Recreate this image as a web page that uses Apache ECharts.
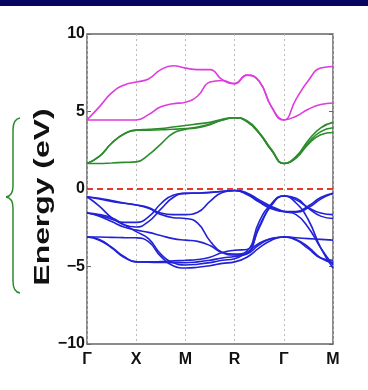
<!DOCTYPE html>
<html>
<head>
<meta charset="utf-8">
<script src="https://cdn.jsdelivr.net/npm/echarts@6/dist/echarts.min.js"></script>
<style>
  html, body { margin: 0; padding: 0; background: #fff; }
  #chart { width: 368px; height: 390px; }
</style>
</head>
<body>
<div id="chart"></div>
<script>
// k-path, high-symmetry points equally spaced: Γ X M R Γ M
const kPath = [0, 0.25, 0.5, 0.75, 1, 1.25, 1.5, 1.75, 2, 2.25, 2.5, 2.75, 3, 3.25, 3.5, 3.75, 4, 4.25, 4.5, 4.75, 5];
const kLabels = ["Γ", "X", "M", "R", "Γ", "M"];
const fermiLevel = 0;

// conduction bands (eg, magenta)
const egLower = [4.45, 4.45, 4.45, 4.45, 4.45, 4.8, 5.3, 5.5, 5.6, 6.0, 6.9, 7.0, 6.8, 7.35, 6.95, 5.3, 4.45, 4.7, 5.15, 5.45, 5.55];
const egUpper = [4.45, 5.3, 6.2, 6.7, 6.9, 7.1, 7.7, 7.95, 7.8, 7.7, 7.7, 7.05, 6.8, 7.35, 6.95, 5.3, 4.45, 5.8, 7.0, 7.8, 7.9];

// conduction bands (t2g, green)
const t2g1 = [1.65, 1.65, 1.68, 1.72, 1.75, 2.2, 2.9, 3.6, 3.85, 3.95, 4.15, 4.45, 4.6, 4.35, 3.6, 2.5, 1.65, 2.0, 2.9, 3.5, 3.65];
const t2g2 = [1.65, 2.1, 2.95, 3.55, 3.8, 3.85, 3.9, 4.0, 4.1, 4.2, 4.3, 4.5, 4.6, 4.35, 3.6, 2.5, 1.65, 2.05, 3.0, 3.7, 3.95];
const t2g3 = [1.65, 2.1, 2.95, 3.55, 3.8, 3.8, 3.82, 3.85, 3.9, 4.0, 4.2, 4.45, 4.6, 4.4, 3.65, 2.55, 1.65, 2.1, 3.15, 3.95, 4.3];

// valence bands (blue)
const vb1 = [-0.5, -0.65, -0.8, -0.92, -1.03, -1.2, -1.55, -1.65, -1.65, -1.5, -0.8, -0.22, -0.1, -0.3, -0.78, -1.2, -1.45, -1.45, -1.1, -0.55, -0.28];
const vb2 = [-0.5, -0.6, -0.75, -0.9, -1.03, -1.25, -1.65, -1.85, -1.9, -2.2, -3.35, -4.1, -4.26, -4.15, -2.4, -1.05, -0.45, -0.6, -1.25, -1.75, -1.9];
const vb3 = [-0.5, -1.1, -1.85, -2.3, -2.45, -2.1, -1.3, -0.55, -0.28, -0.26, -0.22, -0.15, -0.1, -0.35, -0.85, -1.28, -1.45, -1.5, -1.2, -0.65, -0.28];
const vb4 = [-1.55, -1.7, -1.95, -2.15, -2.15, -1.8, -0.95, -0.4, -0.28, -0.27, -0.23, -0.16, -0.1, -0.25, -0.7, -1.12, -1.45, -1.65, -2.5, -3.8, -4.9];
const vb5 = [-1.55, -1.75, -2.1, -2.45, -2.65, -2.8, -3.0, -3.2, -3.3, -3.38, -3.65, -4.1, -4.2, -4.0, -2.1, -0.95, -0.45, -0.7, -1.2, -1.55, -1.65];
const vb6 = [-1.55, -1.65, -1.85, -2.3, -2.75, -3.2, -4.2, -4.75, -4.9, -4.85, -4.75, -4.6, -4.5, -4.1, -3.5, -3.2, -3.1, -3.15, -3.2, -3.25, -3.3];
const vb7 = [-3.1, -3.1, -3.12, -3.14, -3.15, -3.4, -4.35, -4.95, -5.1, -5.05, -4.95, -4.8, -4.7, -4.4, -3.8, -3.3, -3.1, -3.3, -3.85, -4.45, -4.6];
const vb8 = [-3.1, -3.3, -3.8, -4.4, -4.7, -4.7, -4.68, -4.64, -4.6, -4.55, -4.4, -4.1, -3.95, -3.9, -2.5, -1.0, -0.45, -0.9, -2.0, -3.8, -5.1];
const vb9 = [-3.1, -3.25, -3.75, -4.35, -4.7, -4.72, -4.74, -4.75, -4.75, -4.7, -4.6, -4.45, -4.35, -4.2, -3.6, -3.2, -3.1, -3.25, -3.75, -4.45, -4.75];

const blue = "#2222d6";
const green = "#2c8c2c";
const magenta = "#dd3ddd";

function band(values, color) {
  return {
    type: "line",
    data: values.map((e, i) => [kPath[i], e]),
    smooth: 0.5,
    symbol: "none",
    silent: true,
    lineStyle: { color: color, width: 1.6 }
  };
}

const series = [];
[vb1, vb2, vb3, vb4, vb5, vb6, vb7, vb8, vb9].forEach((b) => series.push(band(b, blue)));
[t2g1, t2g2, t2g3].forEach((b) => series.push(band(b, green)));
[egLower, egUpper].forEach((b) => series.push(band(b, magenta)));
series.push({
  type: "line",
  data: [[0, fermiLevel], [5, fermiLevel]],
  symbol: "none",
  silent: true,
  lineStyle: { color: "#e53a2e", width: 2, type: [6, 4] }
});

const tickFont = { color: "#111", fontWeight: "bold", fontFamily: "Liberation Sans", fontSize: 16 };

// curly brace beside the axis name
const braceStyle = { fill: "none", stroke: green, lineWidth: 1.5 };
const brace = [
  { type: "bezierCurve", shape: { x1: 20, y1: 118, cpx1: 13, cpy1: 119, x2: 13, y2: 130 } },
  { type: "line", shape: { x1: 13, y1: 130, x2: 13, y2: 186 } },
  { type: "bezierCurve", shape: { x1: 13, y1: 186, cpx1: 13, cpy1: 196, x2: 6, y2: 197 } },
  { type: "bezierCurve", shape: { x1: 6, y1: 197, cpx1: 13, cpy1: 198, x2: 13, y2: 208 } },
  { type: "line", shape: { x1: 13, y1: 208, x2: 13, y2: 281 } },
  { type: "bezierCurve", shape: { x1: 13, y1: 281, cpx1: 13, cpy1: 292, x2: 20, y2: 293 } }
].map((g) => Object.assign(g, { style: braceStyle, silent: true }));

const option = {
  animation: false,
  backgroundColor: "#fff",
  grid: { left: 87, right: 35, top: 34, bottom: 46, show: true, borderColor: "#666", borderWidth: 1.5 },
  xAxis: {
    type: "value",
    min: 0,
    max: 5,
    interval: 1,
    axisLine: { show: false },
    axisTick: { show: false },
    splitLine: { show: true, lineStyle: { color: "#bbb", type: [2, 3], width: 1 } },
    axisLabel: Object.assign({ margin: 8, formatter: (v) => kLabels[v] }, tickFont)
  },
  yAxis: [
    {
      type: "value",
      min: -10,
      max: 10,
      interval: 5,
      axisLine: { show: false },
      axisTick: { show: true, inside: true, length: 4, lineStyle: { color: "#666" } },
      splitLine: { show: false },
      axisLabel: Object.assign({ margin: 2, formatter: (v) => (v < 0 ? "−" + Math.abs(v) : String(v)) }, tickFont)
    },
    {
      type: "value",
      position: "right",
      min: -10,
      max: 10,
      interval: 5,
      axisLine: { show: false },
      axisTick: { show: true, inside: true, length: 4, lineStyle: { color: "#666" } },
      splitLine: { show: false },
      axisLabel: { show: false }
    }
  ],
  graphic: [
    { type: "rect", left: 0, top: 0, shape: { width: 368, height: 6 }, style: { fill: "#06065e" } }
  ].concat(brace, [
    {
      type: "text",
      x: 43,
      y: 197,
      rotation: Math.PI / 2,
      scaleX: 1.45,
      style: {
        text: "Energy (eV)",
        fontFamily: "Liberation Sans",
        fontWeight: "bold",
        fontSize: 22,
        fill: "#111",
        align: "center",
        verticalAlign: "middle"
      }
    }
  ]),
  series: series
};

const myChart = echarts.init(document.getElementById("chart"));
myChart.setOption(option);
</script>
</body>
</html>
